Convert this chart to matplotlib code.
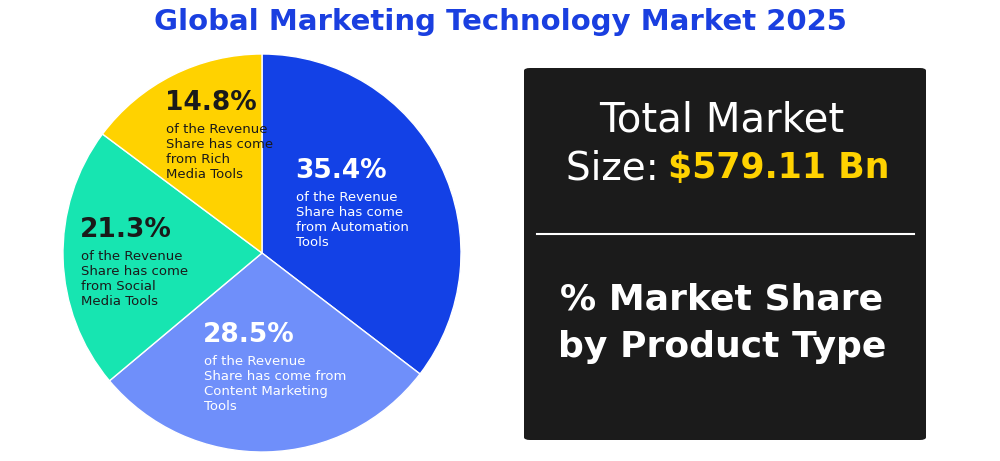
import matplotlib.pyplot as plt
from matplotlib.patches import FancyBboxPatch

shares = [35.4, 28.5, 21.3, 14.8]
pct_labels = ["35.4%", "28.5%", "21.3%", "14.8%"]
descs = ["of the Revenue\nShare has come\nfrom Automation\nTools",
         "of the Revenue\nShare has come from\nContent Marketing\nTools",
         "of the Revenue\nShare has come\nfrom Social\nMedia Tools",
         "of the Revenue\nShare has come\nfrom Rich\nMedia Tools"]
colors = ["#1341E6", "#6F8FFA", "#17E5B1", "#FFD200"]
txt_colors = ["white", "white", "#1a1a1a", "#1a1a1a"]
# label anchors (pixels, top-left of percentage text)
label_pos = [(295, 158), (203, 322), (80, 217), (165, 90)]

W, H = 1000, 461
fig = plt.figure(figsize=(W / 100, H / 100), dpi=100)
plt.rcParams['font.family'] = ['DejaVu Sans']

def fx(x): return x / W
def fy(y): return 1 - y / H

# pie
cx, cy, r = 262, 253, 199
ax = fig.add_axes([fx(cx - r), fy(cy + r), 2 * r / W, 2 * r / H])
ax.pie(shares, colors=colors, startangle=90, counterclock=False,
       wedgeprops=dict(edgecolor='white', linewidth=1))
ax.set_aspect('auto')
ax.set_xlim(-1, 1)
ax.set_ylim(-1, 1)
ax.axis('off')

for (x, y), p, d, c in zip(label_pos, pct_labels, descs, txt_colors):
    fig.text(fx(x), fy(y), p, fontsize=19, fontweight='bold', color=c, va='top', ha='left')
    fig.text(fx(x + 1), fy(y + 33), d, fontsize=9.5, color=c, va='top', ha='left', linespacing=1.2)

fig.text(0.5, fy(22), "Global Marketing Technology Market 2025", fontsize=21,
         fontweight='bold', color='#1A3FE0', ha='center', va='center')

# dark box
box = FancyBboxPatch((fx(524), fy(440)), fx(926 - 524), (440 - 68) / H,
                     boxstyle="round,pad=0,rounding_size=0.006", transform=fig.transFigure,
                     facecolor='#1b1b1b', edgecolor='none')
fig.patches.append(box)
bx = fx(722)
fig.text(bx, fy(120), "Total Market", fontsize=29, color='white', ha='center', va='center')
fig.text(fx(566), fy(168), "Size: ", fontsize=28, color='white', ha='left', va='center')
fig.text(fx(668), fy(168), "$579.11 Bn", fontsize=25, fontweight='bold', color='#FFD200',
         ha='left', va='center')
fig.lines.append(plt.Line2D([fx(537), fx(914)], [fy(234), fy(234)], transform=fig.transFigure,
                            color='white', linewidth=1.5))
fig.text(bx, fy(300), "% Market Share", fontsize=26, fontweight='bold', color='white',
         ha='center', va='center')
fig.text(bx, fy(347), "by Product Type", fontsize=26, fontweight='bold', color='white',
         ha='center', va='center')

fig.savefig("out.png", dpi=100, facecolor='white')
